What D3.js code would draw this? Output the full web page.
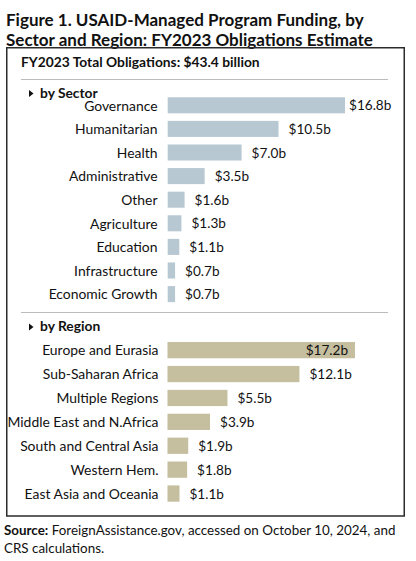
<!DOCTYPE html>
<html><head><meta charset="utf-8">
<script src="https://cdn.jsdelivr.net/npm/d3@7"></script>
<style>
html,body{margin:0;padding:0;background:#fff;}
svg{display:block;}
</style></head>
<body>
<svg id="chart" width="416" height="561"></svg>
<script>
const sectorCategories = ["Governance","Humanitarian","Health","Administrative","Other","Agriculture","Education","Infrastructure","Economic Growth"];
const sectorValues = [16.8,10.5,7.0,3.5,1.6,1.3,1.1,0.7,0.7];
const sectorLabels = ["$16.8b","$10.5b","$7.0b","$3.5b","$1.6b","$1.3b","$1.1b","$0.7b","$0.7b"];
const regionCategories = ["Europe and Eurasia","Sub-Saharan Africa","Multiple Regions","Middle East and N.Africa","South and Central Asia","Western Hem.","East Asia and Oceania"];
const regionValues = [17.2,12.1,5.5,3.9,1.9,1.8,1.1];
const regionLabels = ["$17.2b","$12.1b","$5.5b","$3.9b","$1.9b","$1.8b","$1.1b"];
const titleLines = ["Figure 1. USAID-Managed Program Funding, by","Sector and Region: FY2023 Obligations Estimate"];
const subtitle = "FY2023 Total Obligations: $43.4 billion";
const sourceLines = [["Source:"," ForeignAssistance.gov, accessed on October 10, 2024, and"],["","CRS calculations."]];

const svg = d3.select("#chart");
const titleFont = "'Lato','Open Sans',sans-serif";
const bodyFont = "'Lato','Open Sans',sans-serif";

// Title
svg.selectAll("text.title").data(titleLines).join("text")
  .attr("class","title")
  .attr("x",6).attr("y",(d,i)=>25.5+i*20)
  .attr("font-family",titleFont).attr("font-weight","bold").attr("font-size",17)
  .attr("fill","#111").text(d=>d);

// Box
svg.append("rect").attr("x",6.75).attr("y",47.75).attr("width",397.5).attr("height",516-47.75)
  .attr("fill","none").attr("stroke","#2b2b2b").attr("stroke-width",1.5);

svg.append("text").attr("x",21).attr("y",66.5)
  .attr("font-family",bodyFont).attr("font-weight","bold").attr("font-size",13.8)
  .attr("fill","#111").text(subtitle);

svg.append("line").attr("x1",21).attr("x2",388).attr("y1",79.5).attr("y2",79.5)
  .attr("stroke","#bcbcbc").attr("stroke-width",1);
svg.append("line").attr("x1",21).attr("x2",388).attr("y1",312.5).attr("y2",312.5)
  .attr("stroke","#bcbcbc").attr("stroke-width",1);

function section(cats, vals, labels, opts){
  const g = svg.append("g");
  g.append("path").attr("d",`M${29},${opts.headY-7.5}L${33.5},${opts.headY-4}L${29},${opts.headY-0.5}Z`).attr("fill","#111");
  g.append("text").attr("x",40).attr("y",opts.headY)
    .attr("font-family",bodyFont).attr("font-weight","bold").attr("font-size",13.8)
    .attr("fill","#111").text(opts.header);
  const y = d3.scaleBand().domain(cats).range([opts.y0, opts.y1]).paddingInner(0.32).paddingOuter(0.16);
  const x = d3.scaleLinear().domain([0, opts.maxVal]).range([opts.x0, opts.x1]);
  const rows = g.selectAll("g.row").data(cats.map((c,i)=>({c,v:vals[i],l:labels[i],i}))).join("g");
  rows.append("rect").attr("x",x(0)).attr("y",d=>y(d.c)).attr("height",y.bandwidth())
    .attr("width",d=>x(d.v)-x(0)).attr("fill",opts.color);
  rows.append("text").attr("x",opts.labelX).attr("y",d=>y(d.c)+y.bandwidth()/2).attr("dy","0.38em")
    .attr("text-anchor","end").attr("font-family",bodyFont).attr("font-size",13.9).attr("fill","#111").text(d=>d.c);
  rows.append("text")
    .attr("x",d=> d.i===0 && opts.inside ? x(d.v)-7 : x(d.v) + (d.i===0? 4 : 10))
    .attr("text-anchor",d=> d.i===0 && opts.inside ? "end":"start")
    .attr("y",d=>y(d.c)+y.bandwidth()/2).attr("dy","0.38em")
    .attr("font-family",bodyFont).attr("font-size",13.6).attr("fill","#111").text(d=>d.l);
}

section(sectorCategories, sectorValues, sectorLabels, {
  header:"by Sector", headY:97.5, y0:93.5, y1:93.5+9*23.6, x0:167.7, x1:345, maxVal:16.8,
  color:"#b7c8d2", labelX:157.5, inside:false});
section(regionCategories, regionValues, regionLabels, {
  header:"by Region", headY:331, y0:338.2, y1:338.2+7*23.9, x0:167.5, x1:355, maxVal:17.2,
  color:"#c5be9f", labelX:158.5, inside:true});

// Source
const src = svg.selectAll("text.src").data(sourceLines).join("text").attr("class","src")
  .attr("x",4).attr("y",(d,i)=>535+i*17.5)
  .attr("font-family",titleFont).attr("font-size",13.4).attr("fill","#111");
src.append("tspan").attr("font-weight","bold").text(d=>d[0]);
src.append("tspan").text(d=>d[1]);
</script>
</body></html>
